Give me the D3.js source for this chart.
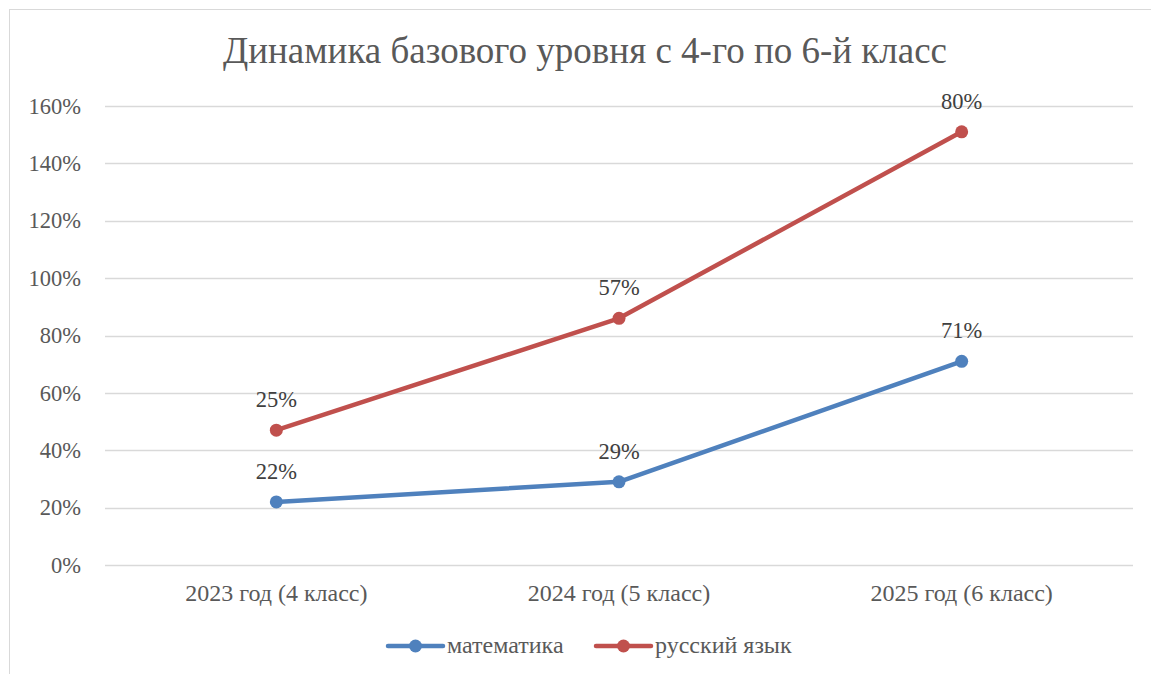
<!DOCTYPE html>
<html><head><meta charset="utf-8">
<script src="https://cdn.jsdelivr.net/npm/d3@7"></script>
<style>body{margin:0;background:#fff}svg{display:block}</style>
</head><body>
<script>
const categories = ["2023 год (4 класс)", "2024 год (5 класс)", "2025 год (6 класс)"];
const seriesNames = ["математика", "русский язык"];
const mathValues = [0.22, 0.29, 0.71];
const russianValues = [0.25, 0.57, 0.80];
const yTicks = [0, 0.2, 0.4, 0.6, 0.8, 1.0, 1.2, 1.4, 1.6];
const colors = ["#4F81BD", "#C0504D"];
const title = "Динамика базового уровня с 4-го по 6-й класс";

const W = 1151, H = 674;
const svg = d3.select("body").append("svg").attr("width", W).attr("height", H);
const font = "Liberation Serif";

svg.append("rect").attr("x", 9.5).attr("y", 9.5).attr("width", W).attr("height", H)
  .attr("fill", "#fff").attr("stroke", "#d9d9d9").attr("stroke-width", 1);

const pLeft = 105, pRight = 1133, pTop = 106, pBottom = 565;
const x = d3.scaleBand().domain(categories).range([pLeft, pRight]);
const y = d3.scaleLinear().domain([0, 1.6]).range([pBottom, pTop]);

svg.append("text").attr("x", 585).attr("y", 63).attr("text-anchor", "middle")
  .style("font-family", font).style("font-size", "37px").attr("fill", "#595959").text(title);

const grid = svg.append("g");
grid.selectAll("line").data(yTicks).join("line")
  .attr("x1", pLeft).attr("x2", pRight)
  .attr("y1", d => Math.round(y(d)) + 0.5).attr("y2", d => Math.round(y(d)) + 0.5)
  .attr("stroke", "#d9d9d9").attr("stroke-width", 1.3);

const yAxis = d3.axisLeft(y).tickValues(yTicks).tickSize(0).tickPadding(0)
  .tickFormat(d => Math.round(d * 100) + "%");
const ya = svg.append("g").attr("transform", `translate(${pLeft - 24},0)`).call(yAxis);
ya.select(".domain").remove();
ya.selectAll("text").style("font-family", font).style("font-size", "22.5px").attr("fill", "#595959");

const xAxis = d3.axisBottom(x).tickSize(0).tickPadding(0);
const xa = svg.append("g").attr("transform", `translate(0,${pBottom + 19})`).call(xAxis);
xa.select(".domain").remove();
xa.selectAll("text").style("font-family", font).style("font-size", "24px").attr("fill", "#595959");

const stackedRus = russianValues.map((v, i) => v + mathValues[i]);
const series = [
  {name: seriesNames[0], raw: mathValues, pos: mathValues, color: colors[0]},
  {name: seriesNames[1], raw: russianValues, pos: stackedRus, color: colors[1]}
];
const cx = c => x(c) + x.bandwidth() / 2;
const line = d3.line().x((d, i) => cx(categories[i])).y(d => y(d));

series.forEach(s => {
  svg.append("path").datum(s.pos).attr("d", line).attr("fill", "none")
    .attr("stroke", s.color).attr("stroke-width", 4.5).attr("stroke-linejoin", "round").attr("stroke-linecap", "round");
  svg.append("g").selectAll("circle").data(s.pos).join("circle")
    .attr("cx", (d, i) => cx(categories[i])).attr("cy", d => y(d)).attr("r", 6.5)
    .attr("fill", s.color);
  svg.append("g").selectAll("text").data(s.pos).join("text")
    .attr("x", (d, i) => cx(categories[i])).attr("y", d => y(d) - 23)
    .attr("text-anchor", "middle").style("font-family", font).style("font-size", "22.5px")
    .attr("fill", "#404040").text((d, i) => Math.round(s.raw[i] * 100) + "%");
});

const legendItems = [{x: 388, tx: 447}, {x: 596, tx: 655}];
series.forEach((s, i) => {
  const g = svg.append("g");
  const lx = legendItems[i].x, ly = 646;
  g.append("line").attr("x1", lx).attr("x2", lx + 55).attr("y1", ly).attr("y2", ly)
    .attr("stroke", s.color).attr("stroke-width", 4.5).attr("stroke-linecap", "round");
  g.append("circle").attr("cx", lx + 27.5).attr("cy", ly).attr("r", 6.5).attr("fill", s.color);
  g.append("text").attr("x", legendItems[i].tx).attr("y", ly + 7)
    .style("font-family", font).style("font-size", "24px").attr("fill", "#595959").text(s.name);
});
</script>
</body></html>
